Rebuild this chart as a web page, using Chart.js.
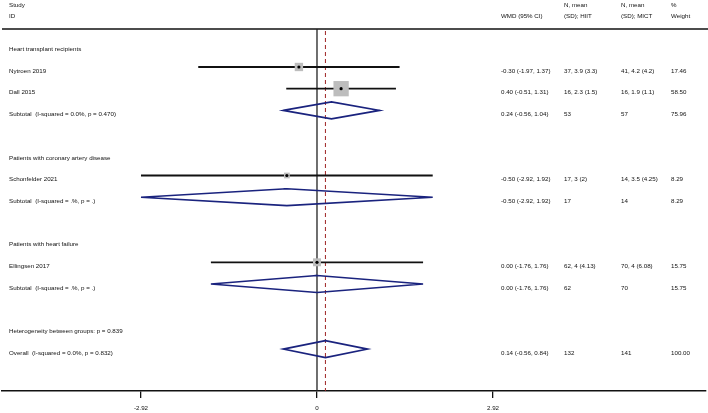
<!DOCTYPE html>
<html>
<head>
<meta charset="utf-8">
<script src="https://cdn.jsdelivr.net/npm/chart.js@4.4.0/dist/chart.umd.min.js"></script>
<style>
html,body{margin:0;padding:0;background:#fff;}
#wrap{width:708px;height:413px;position:relative;}
</style>
</head>
<body>
<div id="wrap"><canvas id="c" width="708" height="413"></canvas></div>
<script>
// ---- data ----
const rowLabels = [
  "Heart transplant recipients","Nytroen 2019","Dall 2015","Subtotal  (I-squared = 0.0%, p = 0.470)",
  "Patients with coronary artery disease","Schonfelder 2021","Subtotal  (I-squared = .%, p = .)",
  "Patients with heart failure","Ellingsen 2017","Subtotal  (I-squared = .%, p = .)",
  "Heterogeneity between groups: p = 0.839","Overall  (I-squared = 0.0%, p = 0.832)"
];
const rowIndex = [1,2,3,4,6,7,8,10,11,12,14,15];
const wmdText = ["","-0.30 (-1.97, 1.37)","0.40 (-0.51, 1.31)","0.24 (-0.56, 1.04)","","-0.50 (-2.92, 1.92)","-0.50 (-2.92, 1.92)","","0.00 (-1.76, 1.76)","0.00 (-1.76, 1.76)","","0.14 (-0.56, 0.84)"];
const hiitText = ["","37, 3.9 (3.3)","16, 2.3 (1.5)","53","","17, 3 (2)","17","","62, 4 (4.13)","62","","132"];
const mictText = ["","41, 4.2 (4.2)","16, 1.9 (1.1)","57","","14, 3.5 (4.25)","14","","70, 4 (6.08)","70","","141"];
const weightText = ["","17.46","58.50","75.96","","8.29","8.29","","15.75","15.75","","100.00"];

const studyRows = [2,3,7,11];
const studyEst = [-0.30,0.40,-0.50,0.00];
const studyLo = [-1.97,-0.51,-2.92,-1.76];
const studyHi = [1.37,1.31,1.92,1.76];
const studyWeight = [17.46,58.50,8.29,15.75];

const poolRows = [4,8,12,15];
const poolEst = [0.24,-0.50,0.00,0.14];
const poolLo = [-0.56,-2.92,-1.76,-0.56];
const poolHi = [1.04,1.92,1.76,0.84];

const tickValues = [-2.92,0,2.92];
const overallEffect = 0.14;

// ---- build datasets ----
const ciData = [];
studyRows.forEach((r,i)=>{ ciData.push({x:studyLo[i],y:r},{x:studyHi[i],y:r},{x:null,y:null}); });
const diamondH = 0.39;
const diaData = [];
poolRows.forEach((r,i)=>{
  diaData.push({x:poolLo[i],y:r},{x:poolEst[i],y:r-diamondH},{x:poolHi[i],y:r},{x:poolEst[i],y:r+diamondH},{x:poolLo[i],y:r},{x:poolEst[i],y:r-diamondH},{x:null,y:null});
});
const sqData = studyRows.map((r,i)=>({x:studyEst[i],y:r}));
const sqRadius = studyWeight.map(w=>2*Math.sqrt(w)/Math.SQRT2);

const FAM = '"Liberation Sans", Arial, sans-serif';
const FONT = '6.2px ' + FAM;

const overlay = {
  id:'overlay',
  beforeDatasetsDraw(chart){
    const {ctx, chartArea:a, scales:{x,y}} = chart;
    ctx.save();
    ctx.strokeStyle='#111'; ctx.lineWidth=1.5;
    ctx.beginPath(); ctx.moveTo(2,a.top); ctx.lineTo(708,a.top); ctx.stroke();
    const x0 = x.getPixelForValue(0);
    ctx.strokeStyle='#222'; ctx.lineWidth=1.3;
    ctx.beginPath(); ctx.moveTo(x0,a.top); ctx.lineTo(x0,a.bottom); ctx.stroke();
    const xo = x.getPixelForValue(overallEffect);
    ctx.strokeStyle='#9e2424'; ctx.lineWidth=1; ctx.setLineDash([4,3]);
    ctx.beginPath(); ctx.moveTo(xo,a.top+2); ctx.lineTo(xo,a.bottom); ctx.stroke();
    ctx.setLineDash([]);
    ctx.restore();
  },
  afterDraw(chart){
    const {ctx, scales:{y}} = chart;
    ctx.save();
    ctx.fillStyle='#111'; ctx.font=FONT; ctx.textBaseline='middle'; ctx.textAlign='left';
    ctx.fillText('Study',9,5.5); ctx.fillText('ID',9,16.5);
    ctx.fillText('WMD (95% CI)',501,16.5);
    ctx.fillText('N, mean',564,5.5); ctx.fillText('(SD); HIIT',564,16.5);
    ctx.fillText('N, mean',621,5.5); ctx.fillText('(SD); MICT',621,16.5);
    ctx.fillText('%',671,5.5); ctx.fillText('Weight',671,16.5);
    rowLabels.forEach((t,i)=>{
      const py = y.getPixelForValue(rowIndex[i])+4;
      ctx.fillText(t,9,py);
      ctx.fillText(wmdText[i],501,py);
      ctx.fillText(hiitText[i],564,py);
      ctx.fillText(mictText[i],621,py);
      ctx.fillText(weightText[i],671,py);
    });
    ctx.restore();
  }
};

new Chart(document.getElementById('c'),{
  type:'scatter',
  data:{datasets:[
    {data:ciData, showLine:true, spanGaps:false, borderColor:'#111', borderWidth:1.8, pointRadius:0, order:3},
    {data:sqData, pointStyle:'rect', pointRadius:sqRadius, backgroundColor:'#bdbdbd', borderWidth:0, order:2},
    {data:sqData, pointStyle:'circle', pointRadius:1.6, backgroundColor:'#000', borderWidth:0, order:1},
    {data:diaData, showLine:true, spanGaps:false, borderColor:'#1a237e', borderWidth:1.6, borderJoinStyle:'miter', pointRadius:0, fill:false, order:0}
  ]},
  options:{
    responsive:false, animation:false, devicePixelRatio:1,
    layout:{autoPadding:false, padding:{top:29,left:2,right:2,bottom:0}},
    plugins:{legend:{display:false}, tooltip:{enabled:false}},
    scales:{
      x:{type:'linear', min:-5.226, max:6.454,
         afterBuildTicks(s){ s.ticks = tickValues.map(v=>({value:v})); },
         afterFit(s){ s.paddingLeft=0; s.paddingRight=0; s.height=22; },
         ticks:{font:{family:FAM, size:6.2}, color:'#111', padding:7,
                callback:(v)=> v===0 ? '0' : String(v)},
         grid:{drawOnChartArea:false, drawTicks:true, tickLength:7, color:'#111', lineWidth:1.3},
         border:{display:true, color:'#111', width:1.5}},
      y:{type:'linear', min:0.25, max:16.93, reverse:true, display:false}
    }
  },
  plugins:[overlay]
});
</script>
</body>
</html>
